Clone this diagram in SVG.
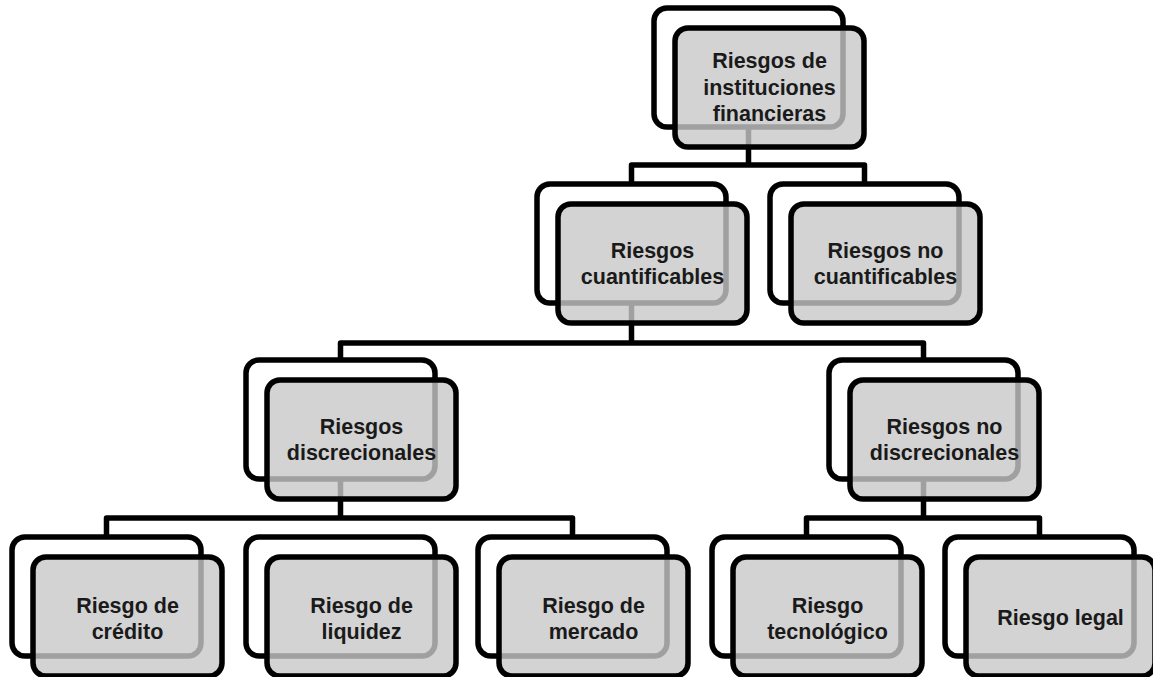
<svg xmlns="http://www.w3.org/2000/svg" width="1153" height="677" viewBox="0 0 1153 677">
<defs>
<style>
.conn{fill:none;stroke:#000;stroke-width:5.5;stroke-linejoin:round}
.back{fill:#fff;stroke:#000;stroke-width:5.5}
.front{fill:#c8c8c8;fill-opacity:0.8;stroke:#000;stroke-width:5.5}
.t{font-family:"Liberation Sans",Arial,sans-serif;font-weight:bold;font-size:21.5px;fill:#1a1a1a;text-anchor:middle}
</style>
</defs>
<rect width="1153" height="677" fill="#fff"/>
<g id="connectors">
<path class="conn" d="M748.5,127 V165 M631.5,184 V165 H864.5 V184"/>
<path class="conn" d="M631.5,303 V343 M340.5,360 V343 H923.5 V360"/>
<path class="conn" d="M340.5,479 V518 M106.5,537 V518 H572.5 V537"/>
<path class="conn" d="M923.5,479 V518 M806.5,537 V518 H1039.5 V537"/>
</g>
<g id="n-root">
<rect class="back" x="654" y="8" width="189" height="119" rx="13"/>
<rect class="front" x="675" y="28" width="189" height="119" rx="13"/>
<text class="t" x="769.5" y="68">Riesgos de</text>
<text class="t" x="769.5" y="95">instituciones</text>
<text class="t" x="769.5" y="121">financieras</text>
</g>
<g id="n-cuant">
<rect class="back" x="537" y="184" width="189" height="119" rx="13"/>
<rect class="front" x="558" y="204" width="189" height="119" rx="13"/>
<text class="t" x="652.5" y="258">Riesgos</text>
<text class="t" x="652.5" y="284">cuantificables</text>
</g>
<g id="n-nocuant">
<rect class="back" x="770" y="184" width="189" height="119" rx="13"/>
<rect class="front" x="791" y="204" width="189" height="119" rx="13"/>
<text class="t" x="885.5" y="258">Riesgos no</text>
<text class="t" x="885.5" y="284">cuantificables</text>
</g>
<g id="n-disc">
<rect class="back" x="246" y="360" width="189" height="119" rx="13"/>
<rect class="front" x="267" y="380" width="189" height="119" rx="13"/>
<text class="t" x="361.5" y="434">Riesgos</text>
<text class="t" x="361.5" y="460">discrecionales</text>
</g>
<g id="n-nodisc">
<rect class="back" x="829" y="360" width="189" height="119" rx="13"/>
<rect class="front" x="850" y="380" width="189" height="119" rx="13"/>
<text class="t" x="944.5" y="434">Riesgos no</text>
<text class="t" x="944.5" y="460">discrecionales</text>
</g>
<g id="n-credito">
<rect class="back" x="12" y="537" width="189" height="119" rx="13"/>
<rect class="front" x="33" y="557" width="189" height="119" rx="13"/>
<text class="t" x="127.5" y="613">Riesgo de</text>
<text class="t" x="127.5" y="639">crédito</text>
</g>
<g id="n-liquidez">
<rect class="back" x="246" y="537" width="189" height="119" rx="13"/>
<rect class="front" x="267" y="557" width="189" height="119" rx="13"/>
<text class="t" x="361.5" y="613">Riesgo de</text>
<text class="t" x="361.5" y="639">liquidez</text>
</g>
<g id="n-mercado">
<rect class="back" x="478" y="537" width="189" height="119" rx="13"/>
<rect class="front" x="499" y="557" width="189" height="119" rx="13"/>
<text class="t" x="593.5" y="613">Riesgo de</text>
<text class="t" x="593.5" y="639">mercado</text>
</g>
<g id="n-tecno">
<rect class="back" x="712" y="537" width="189" height="119" rx="13"/>
<rect class="front" x="733" y="557" width="189" height="119" rx="13"/>
<text class="t" x="827.5" y="613">Riesgo</text>
<text class="t" x="827.5" y="639">tecnológico</text>
</g>
<g id="n-legal">
<rect class="back" x="945" y="537" width="189" height="119" rx="13"/>
<rect class="front" x="966" y="557" width="189" height="119" rx="13"/>
<text class="t" x="1060.5" y="625">Riesgo legal</text>
</g>
</svg>
